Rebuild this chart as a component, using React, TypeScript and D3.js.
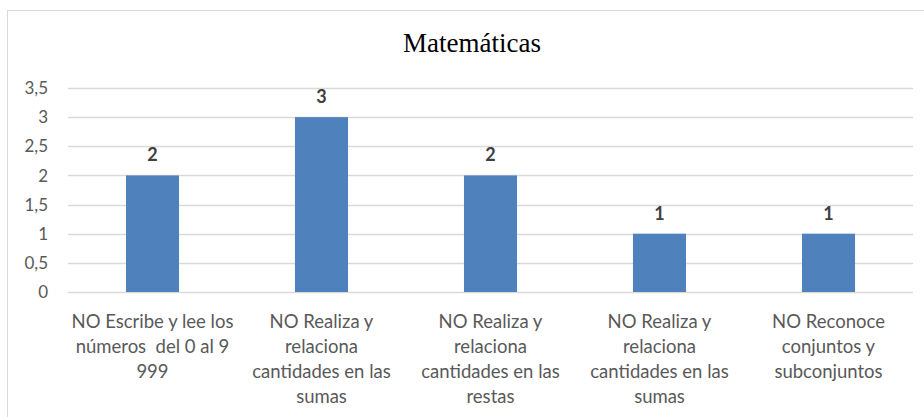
import React from "react";
import * as d3 from "d3";

const categories: string[][] = [
  ["NO Escribe y lee los", "números  del 0 al 9", "999"],
  ["NO Realiza y", "relaciona", "cantidades en las", "sumas"],
  ["NO Realiza y", "relaciona", "cantidades en las", "restas"],
  ["NO Realiza y", "relaciona", "cantidades en las", "sumas"],
  ["NO Reconoce", "conjuntos y", "subconjuntos"],
];
const values: number[] = [2, 3, 2, 1, 1];
const yTicks: number[] = [0, 0.5, 1, 1.5, 2, 2.5, 3, 3.5];
const title = "Matemáticas";

const W = 924;
const H = 417;
const plotLeft = 68;
const plotRight = 913;
const plotTop = 88;
const plotBottom = 292;

export default function App() {
  const x = d3
    .scaleBand<number>()
    .domain(values.map((_, i) => i))
    .range([plotLeft, plotRight])
    .paddingInner(0.686)
    .paddingOuter(0.343);
  const y = d3.scaleLinear().domain([0, 3.5]).range([plotBottom, plotTop]);
  const fmt = (v: number) => String(v).replace(".", ",");
  const textColor = "#595959";
  const font = "Lato, 'Open Sans', sans-serif";

  return (
    <svg
      width={W}
      height={H}
      style={{ position: "absolute", left: 0, top: 0, background: "#fff" }}
    >
      <rect x={0} y={0} width={W} height={H} fill="#fff" />
      <rect x={7.5} y={10.5} width={W + 20} height={H + 20} fill="none" stroke="#D9D9D9" strokeWidth={1} />
      <text
        x={472}
        y={52}
        textAnchor="middle"
        fontFamily="'Liberation Serif', 'Times New Roman', serif"
        fontSize={27}
        fill="#000"
      >
        {title}
      </text>
      {yTicks.map((t) => (
        <g key={t}>
          <line
            x1={plotLeft}
            x2={plotRight}
            y1={Math.round(y(t)) + 0.5}
            y2={Math.round(y(t)) + 0.5}
            stroke="#D9D9D9"
            strokeWidth={1.3}
          />
          <text
            x={48}
            y={y(t)}
            dy="0.36em"
            textAnchor="end"
            fontFamily={font}
            fontSize={17}
            fill={textColor}
          >
            {fmt(t)}
          </text>
        </g>
      ))}
      {values.map((v, i) => (
        <g key={i}>
          <rect
            x={x(i)!}
            y={y(v)}
            width={x.bandwidth()}
            height={y(0) - y(v)}
            fill="#4F81BD"
          />
          <text
            x={x(i)! + x.bandwidth() / 2}
            y={y(v) - 14}
            textAnchor="middle"
            fontFamily={font}
            fontWeight="bold"
            fontSize={18}
            fill="#404040"
          >
            {v}
          </text>
          <text
            x={x(i)! + x.bandwidth() / 2}
            y={328}
            textAnchor="middle"
            fontFamily={font}
            fontSize={18.5}
            fill={textColor}
          >
            {categories[i].map((line, j) => (
              <tspan key={j} x={x(i)! + x.bandwidth() / 2} dy={j === 0 ? 0 : 25} style={{ whiteSpace: "pre" }}>
                {line}
              </tspan>
            ))}
          </text>
        </g>
      ))}
    </svg>
  );
}
